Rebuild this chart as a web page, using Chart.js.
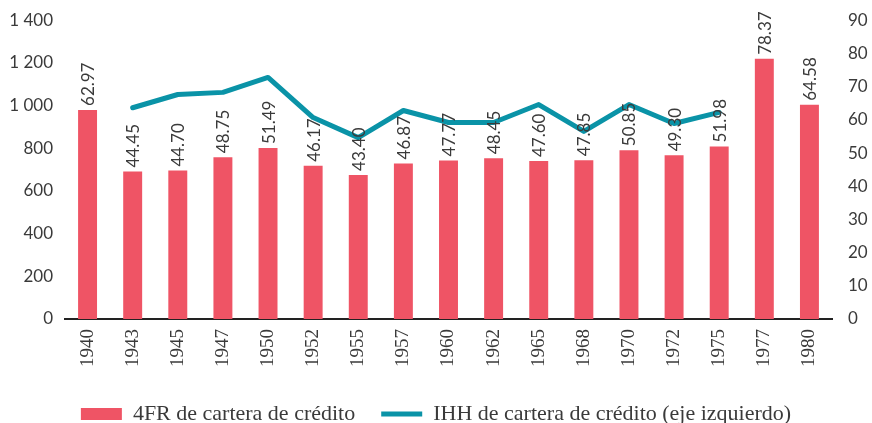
<!DOCTYPE html>
<html>
<head>
<meta charset="utf-8">
<script src="https://cdn.jsdelivr.net/npm/chart.js@4"></script>
<style>
  body { margin: 0; background: #fff; }
  #wrap { width: 872px; height: 423px; }
</style>
</head>
<body>
<div id="wrap"><canvas id="chart"></canvas></div>
<script>
const years = ['1940', '1943', '1945', '1947', '1950', '1952', '1955', '1957', '1960',
    '1962', '1965', '1968', '1970', '1972', '1975', '1977', '1980'];
// 4FR, right axis
const frValues = [62.97, 44.45, 44.70, 48.75, 51.49, 46.17, 43.40, 46.87, 47.77,
    48.45, 47.60, 47.85, 50.85, 49.30, 51.98, 78.37, 64.58];
// IHH, left axis
const ihhValues = [null, 990, 1052, 1062, 1132, 944, 850, 977, 921,
    921, 1005, 879, 1005, 916, 968, null, null];

const barColor = '#EF5465';
const lineColor = '#0A93A7';
const textColor = '#3a3a3a';

// values written above each bar, rotated
const barLabels = {
    id: 'barLabels',
    afterDatasetsDraw(chart) {
        const ctx = chart.ctx;
        const meta = chart.getDatasetMeta(0);
        ctx.save();
        ctx.fillStyle = textColor;
        ctx.font = '17px Lato';
        ctx.textAlign = 'left';
        ctx.textBaseline = 'middle';
        meta.data.forEach((bar, i) => {
            ctx.save();
            ctx.translate(bar.x + 1, bar.y - 4);
            ctx.rotate(-Math.PI / 2);
            ctx.fillText(frValues[i].toFixed(2), 0, 0);
            ctx.restore();
        });
        ctx.restore();
    }
};

new Chart(document.getElementById('chart'), {
    type: 'bar',
    data: {
        labels: years,
        datasets: [
            {
                type: 'bar',
                label: '4FR de cartera de crédito',
                data: frValues,
                backgroundColor: barColor,
                yAxisID: 'y1',
                barPercentage: 0.42,
                categoryPercentage: 1,
                pointStyle: 'rect',
                order: 1
            },
            {
                type: 'line',
                label: 'IHH de cartera de crédito (eje izquierdo)',
                data: ihhValues,
                borderColor: lineColor,
                backgroundColor: lineColor,
                borderWidth: 5,
                borderCapStyle: 'round',
                borderJoinStyle: 'round',
                pointRadius: 0,
                pointStyle: 'line',
                yAxisID: 'y',
                order: 0
            }
        ]
    },
    options: {
        responsive: true,
        maintainAspectRatio: false,
        animation: false,
        layout: { padding: { top: 0, bottom: -12 } },
        plugins: {
            tooltip: { enabled: false },
            legend: {
                position: 'bottom',
                labels: {
                    usePointStyle: true,
                    pointStyleWidth: 41,
                    boxWidth: 41,
                    boxHeight: 12,
                    padding: 26,
                    color: textColor,
                    font: { family: 'Liberation Serif', size: 22 },
                    sort: (a, b) => a.datasetIndex - b.datasetIndex
                }
            }
        },
        scales: {
            x: {
                offset: true,
                grid: { display: false, drawTicks: false },
                border: { display: true, color: '#222', width: 2 },
                ticks: {
                    color: textColor,
                    font: { family: 'Liberation Serif', size: 19 },
                    minRotation: 90,
                    maxRotation: 90,
                    padding: 10
                },
                afterFit: s => { s.height = 58; }
            },
            y: {
                position: 'left',
                min: 0,
                max: 1400,
                grid: { display: false, drawTicks: false },
                border: { display: false },
                ticks: {
                    stepSize: 200,
                    color: textColor,
                    padding: 12,
                    font: { family: 'Lato', size: 17, lineHeight: 0.5 },
                    callback: v => String(v).replace(/\B(?=(\d{3})+(?!\d))/g, ' ')
                },
                afterFit: s => { s.width = 65; }
            },
            y1: {
                position: 'right',
                min: 0,
                max: 90,
                grid: { display: false, drawTicks: false },
                border: { display: false },
                ticks: {
                    stepSize: 10,
                    color: textColor,
                    padding: 16,
                    font: { family: 'Lato', size: 17, lineHeight: 0.5 }
                },
                afterFit: s => { s.width = 40; }
            }
        }
    },
    plugins: [barLabels]
});
</script>
</body>
</html>
